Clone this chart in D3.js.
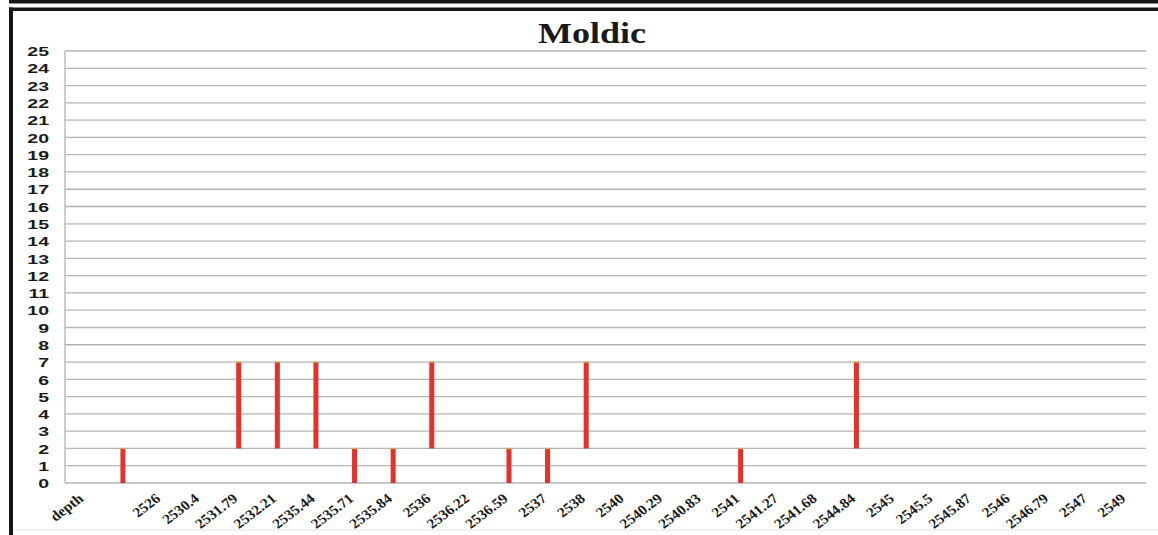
<!DOCTYPE html>
<html>
<head>
<meta charset="utf-8">
<script src="https://cdn.jsdelivr.net/npm/d3@7"></script>
<style>
  body { margin: 0; background: #fff; }
  svg { display: block; }
</style>
</head>
<body>
<div class="container"></div>
<script>
// categories on the x axis (one band has no label in the source)
const depths = ['depth', '', '2526', '2530.4', '2531.79', '2532.21', '2535.44', '2535.71',
  '2535.84', '2536', '2536.22', '2536.59', '2537', '2538', '2540', '2540.29', '2540.83',
  '2541', '2541.27', '2541.68', '2544.84', '2545', '2545.5', '2545.87', '2546', '2546.79',
  '2547', '2549'];
// floating bars: bottom and top value of each bar (null = no bar)
const lowValues  = [null, 0, null, null, 2, 2, 2, 0, 0, 2, null, 0, 0, 2, null, null, null,
  0, null, null, 2, null, null, null, null, null, null, null];
const highValues = [null, 2, null, null, 7, 7, 7, 2, 2, 7, null, 2, 2, 7, null, null, null,
  2, null, null, 7, null, null, null, null, null, null, null];
const yTicks = d3.range(0, 26);

const W = 1158, H = 535;
const plot = { left: 65, right: 1146, top: 51, bottom: 483 };

const svg = d3.select('.container')
  .append('svg')
  .attr('width', W)
  .attr('height', H);

// outer frame
svg.append('rect').attr('x', 9).attr('y', 0).attr('width', W - 9).attr('height', 3.5).attr('fill', '#151515');
svg.append('rect').attr('x', 9).attr('y', 7.5).attr('width', W - 9).attr('height', 3.5).attr('fill', '#151515');
svg.append('rect').attr('x', 9).attr('y', 7.5).attr('width', 4).attr('height', H - 7.5).attr('fill', '#151515');
svg.append('line').attr('x1', 13).attr('x2', W).attr('y1', 530).attr('y2', 530)
  .attr('stroke', '#e2e2e2').attr('stroke-width', 1);

// title
svg.append('text')
  .attr('x', 592)
  .attr('y', 43)
  .attr('text-anchor', 'middle')
  .attr('textLength', 108)
  .attr('lengthAdjust', 'spacingAndGlyphs')
  .style('font-family', '"Liberation Serif", "Times New Roman", serif')
  .style('font-weight', 'bold')
  .style('font-size', '30px')
  .style('fill', '#1a1a1a')
  .text('Moldic');

const x = d3.scaleBand()
  .domain(d3.range(depths.length))
  .range([plot.left, plot.right])
  .padding(0);

const y = d3.scaleLinear()
  .domain([0, 25])
  .range([plot.bottom, plot.top]);

// grid lines
svg.append('g')
  .selectAll('line')
  .data(yTicks)
  .enter()
  .append('line')
  .attr('x1', plot.left)
  .attr('x2', plot.right)
  .attr('y1', d => y(d))
  .attr('y2', d => y(d))
  .attr('stroke', '#b4b4b4')
  .attr('stroke-width', 1.3);

svg.append('line')
  .attr('x1', plot.left).attr('x2', plot.left)
  .attr('y1', y(25)).attr('y2', y(0))
  .attr('stroke', '#b4b4b4')
  .attr('stroke-width', 1.3);

// y axis labels (the source picture is stretched sideways)
const yAxis = d3.axisLeft(y)
  .tickValues(yTicks)
  .tickSize(0)
  .tickFormat(d3.format('d'));

svg.append('g')
  .attr('id', 'y-axis')
  .attr('transform', `translate(${plot.left},0)`)
  .call(yAxis)
  .call(g => g.select('.domain').remove())
  .selectAll('text')
  .attr('x', 0)
  .attr('dy', '0.36em')
  .attr('transform', 'translate(-16,0) scale(1.5,1)')
  .style('font-family', '"Liberation Sans", Arial, sans-serif')
  .style('font-weight', 'bold')
  .style('font-size', '13px')
  .style('fill', '#1a1a1a');

// x axis labels
const xAxis = d3.axisBottom(x)
  .tickSize(0)
  .tickFormat(i => depths[i]);

svg.append('g')
  .attr('id', 'x-axis')
  .attr('transform', `translate(0,${plot.bottom})`)
  .call(xAxis)
  .call(g => g.select('.domain').remove())
  .selectAll('text')
  .attr('text-anchor', 'end')
  .attr('x', 0)
  .attr('y', 0)
  .attr('dy', 0)
  .attr('transform', 'translate(0,17) scale(1.1,1) rotate(-40)')
  .style('font-family', '"Liberation Serif", "Times New Roman", serif')
  .style('font-weight', 'bold')
  .style('font-size', '14px')
  .style('fill', '#1a1a1a');

// bars
const bars = d3.range(depths.length).filter(i => lowValues[i] !== null);

svg.append('g')
  .selectAll('rect')
  .data(bars)
  .enter()
  .append('rect')
  .attr('x', i => x(i) + x.bandwidth() / 2 - 2.5)
  .attr('y', i => y(highValues[i]))
  .attr('width', 5)
  .attr('height', i => y(lowValues[i]) - y(highValues[i]))
  .attr('fill', '#e4312b');

// small cap on top of each bar
svg.append('g')
  .selectAll('rect')
  .data(bars)
  .enter()
  .append('rect')
  .attr('x', i => x(i) + x.bandwidth() / 2 - 2.5)
  .attr('y', i => y(highValues[i]) - 0.5)
  .attr('width', 5)
  .attr('height', 1.2)
  .attr('fill', '#c9b24a');
</script>
</body>
</html>
